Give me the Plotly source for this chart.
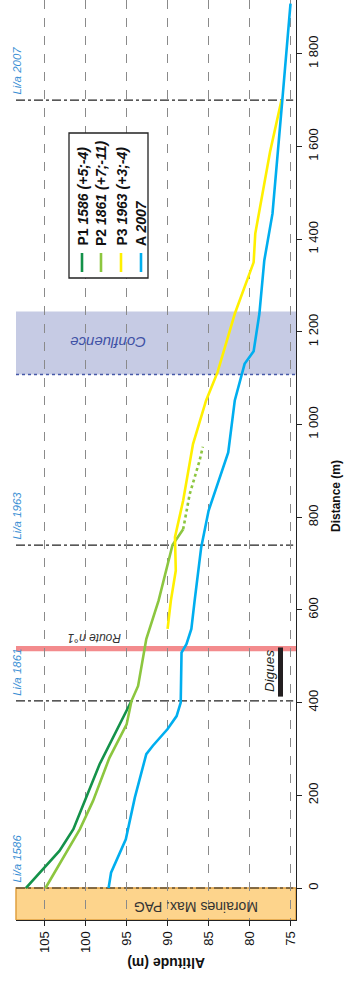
import plotly.graph_objects as go

# ---------------- data (distance m, altitude m) ----------------
p1_dist = [0, 80, 127, 188, 267, 404]
p1_alt = [107.3, 103.2, 101.5, 100.1, 98.3, 94.4]

p2_dist = [0, 80, 127, 188, 281, 353, 404, 436, 537, 620, 740, 774]
p2_alt = [104.9, 102.2, 100.7, 99.1, 97.1, 95.0, 94.4, 93.6, 92.6, 91.1, 89.4, 88.1]
p2_dot_dist = [774, 850, 922, 952]
p2_dot_alt = [88.1, 87.3, 86.1, 85.7]

p3_dist = [559, 620, 685, 757, 836, 958, 1052, 1113, 1239, 1325, 1350, 1412, 1484, 1588, 1700]
p3_alt = [90.0, 89.6, 89.0, 89.1, 88.1, 86.9, 85.3, 83.9, 81.8, 80.0, 79.5, 79.3, 78.6, 77.5, 76.1]

a_dist = [0, 33, 105, 145, 195, 289, 307, 343, 371, 400, 508, 526, 559, 620, 735, 814,
          940, 1052, 1131, 1158, 1239, 1354, 1455, 1700, 1908]
a_alt = [97.2, 96.9, 95.1, 94.6, 94.0, 92.6, 91.8, 90.0, 88.9, 88.4, 88.3, 87.7, 87.1, 86.7,
         85.9, 85.0, 82.6, 81.8, 80.6, 79.5, 78.8, 78.2, 77.2, 76.0, 75.0]

series_names = ["P1 <i>1586 (+5;-4)</i>", "P2 <i>1861 (+7;-11)</i>",
                "P3 <i>1963 (+3;-4)</i>", "A <i>2007</i>"]
series_colors = ["#14924A", "#8CC63F", "#FFF000", "#00AEEF"]

lia_dist = [0, 404, 740, 1700]
lia_labels = ["Li/a 1586", "Li/a 1861", "Li/a 1963", "Li/a 2007"]

alt_ticks = [105, 100, 95, 90, 85, 80, 75]
dist_ticks = [0, 200, 400, 600, 800, 1000, 1200, 1400, 1600, 1800]
dist_ticktext = ["0", "200", "400", "600", "800", "1 000", "1 200", "1 400", "1 600", "1 800"]

moraines_dist = [-69, 0]
confluence_dist = [1108, 1244]
route_dist = [511, 522]
digues_dist = [413, 519]

ALT_RANGE = [108.5, 74.33]
DIST_RANGE = [-69, 1916]

W, H = 347, 983
ML, MR, MT, MB = 16, 51, 0, 63
PW, PH = W - ML - MR, H - MT - MB

def px(x):
    return (x - ML) / PW

def py(y):
    return (MT + PH - y) / PH

def alt_of_px(x):
    return ALT_RANGE[0] + (x - ML) * (ALT_RANGE[1] - ALT_RANGE[0]) / PW

FONT = "Arial, Liberation Sans, sans-serif"

fig = go.Figure()
fig.add_trace(go.Scatter(x=p1_alt, y=p1_dist, mode="lines",
                         line=dict(color=series_colors[0], width=2.6), showlegend=False))
fig.add_trace(go.Scatter(x=p2_alt, y=p2_dist, mode="lines",
                         line=dict(color=series_colors[1], width=2.6), showlegend=False))
fig.add_trace(go.Scatter(x=p2_dot_alt, y=p2_dot_dist, mode="lines",
                         line=dict(color=series_colors[1], width=2.6, dash="dot"), showlegend=False))
fig.add_trace(go.Scatter(x=p3_alt, y=p3_dist, mode="lines",
                         line=dict(color=series_colors[2], width=2.6), showlegend=False))
fig.add_trace(go.Scatter(x=a_alt, y=a_dist, mode="lines",
                         line=dict(color=series_colors[3], width=2.6), showlegend=False))

shapes = []
shapes.append(dict(type="rect", xref="paper", yref="y", x0=0, x1=1,
                   y0=moraines_dist[0], y1=moraines_dist[1],
                   fillcolor="#FDD48C", line=dict(color="#E0A040", width=1.5), layer="below"))
shapes.append(dict(type="rect", xref="paper", yref="y", x0=0, x1=1,
                   y0=confluence_dist[0], y1=confluence_dist[1],
                   fillcolor="#C6CBE4", line=dict(width=0), layer="below"))
shapes.append(dict(type="line", xref="paper", yref="y", x0=0, x1=1,
                   y0=confluence_dist[0], y1=confluence_dist[0],
                   line=dict(color="#4658A8", width=1.5, dash="dot"), layer="below"))
shapes.append(dict(type="rect", xref="paper", yref="y", x0=0, x1=1,
                   y0=route_dist[0], y1=route_dist[1],
                   fillcolor="#F38B8D", line=dict(width=0), layer="below"))
for d in lia_dist:
    shapes.append(dict(type="line", xref="paper", yref="y", x0=0, x1=0.99, y0=d, y1=d,
                       line=dict(color="#222222", width=1.2, dash="dashdot"), layer="below"))
shapes.append(dict(type="rect", xref="x", yref="y",
                   x0=alt_of_px(278), x1=alt_of_px(283),
                   y0=digues_dist[0], y1=digues_dist[1],
                   fillcolor="#231F20", line=dict(width=0), layer="above"))
shapes.append(dict(type="rect", xref="paper", yref="paper",
                   x0=px(69), x1=px(148), y0=py(278), y1=py(133),
                   fillcolor="white", line=dict(color="#222222", width=1.3), layer="above"))
leg_x = [82, 101, 121, 141]
for lx, col in zip(leg_x, series_colors):
    shapes.append(dict(type="line", xref="paper", yref="paper",
                       x0=px(lx), x1=px(lx), y0=py(272), y1=py(253),
                       line=dict(color=col, width=2.6), layer="above"))

annotations = []
for d, lab in zip(lia_dist, lia_labels):
    annotations.append(dict(text="<i>" + lab + "</i>", xref="paper", yref="y",
                            x=px(17.5), y=d, yshift=3, xanchor="center", yanchor="bottom",
                            textangle=-90, showarrow=False,
                            font=dict(family=FONT, size=11.5, color="#3A8FD4")))
for lx, name in zip(leg_x, series_names):
    annotations.append(dict(text="<b>" + name + "</b>", xref="paper", yref="paper",
                            x=px(lx), y=py(248), xanchor="center", yanchor="bottom",
                            textangle=-90, showarrow=False,
                            font=dict(family=FONT, size=14, color="#111111")))

def centered(text, x, y, angle, size, color):
    return dict(text=text, xref="paper", yref="paper", x=px(x), y=py(y),
                xanchor="center", yanchor="middle", textangle=angle, showarrow=False,
                font=dict(family=FONT, size=size, color=color))

annotations.append(centered("<i>Route n°1</i>", 94, 638, 180, 12, "#333333"))
annotations.append(centered("<i>Confluence</i>", 108.5, 343, 180, 15, "#3F51A5"))
annotations.append(centered("Moraines Max. PAG", 196, 907, 180, 14, "#333333"))
annotations.append(centered("<i>Digues</i>", 269, 671, -90, 13.5, "#231F20"))
annotations.append(centered("<b>Altitude (m)</b>", 166, 963, 180, 14, "#111111"))
annotations.append(centered("<b>Distance (m)</b>", 336, 496, -90, 12, "#111111"))

fig.update_layout(
    width=W, height=H,
    margin=dict(l=ML, r=MR, t=MT, b=MB, pad=0),
    paper_bgcolor="white", plot_bgcolor="white",
    shapes=shapes, annotations=annotations, showlegend=False,
    font=dict(family=FONT, size=13, color="#111111"),
    xaxis=dict(range=ALT_RANGE, tickvals=alt_ticks, ticktext=[str(t) for t in alt_ticks],
               tickangle=-90, showgrid=True, gridcolor="#8A8A8A", griddash="dash", gridwidth=1,
               zeroline=False, showline=True, linecolor="#222222", linewidth=1.3,
               ticks="outside", ticklen=5, tickcolor="#222222",
               tickfont=dict(family=FONT, size=13, color="#111111")),
    yaxis=dict(range=DIST_RANGE, side="right", tickvals=dist_ticks, ticktext=dist_ticktext,
               tickangle=-90, showgrid=False, zeroline=False, showline=True,
               linecolor="#222222", linewidth=1.3, ticks="outside", ticklen=5,
               tickcolor="#222222", tickfont=dict(family=FONT, size=13, color="#111111")),
)

fig.write_html("out.html", config={"displayModeBar": False},
               post_script="document.body.style.margin='0';document.body.style.overflow='hidden';")
